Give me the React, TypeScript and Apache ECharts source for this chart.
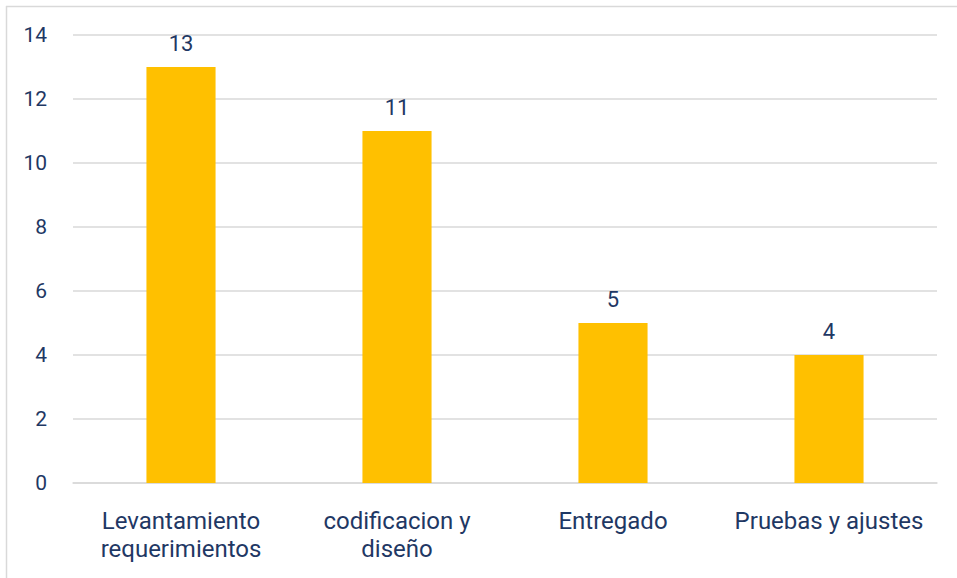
import React, { useEffect, useRef } from "react";
import * as echarts from "echarts";

const categories = ["Levantamiento\nrequerimientos", "codificacion y\ndiseño", "Entregado", "Pruebas y ajustes"];
const values = [13, 11, 5, 4];
const yTicks = { min: 0, max: 14, interval: 2 };

const TEXT = "#1F3864";
const GRID = "#D9D9D9";
const BAR = "#FFC000";
const FONT = "Roboto, 'Noto Sans', sans-serif";

export default function App() {
  const ref = useRef<HTMLDivElement>(null);
  useEffect(() => {
    const chart = echarts.init(ref.current!, null, { renderer: "svg" });
    chart.setOption({
      animation: false,
      textStyle: { fontFamily: FONT },
      grid: { left: 73, right: 20, top: 35, bottom: 95, containLabel: false },
      graphic: [
        { type: "line", shape: { x1: 6.5, y1: 6, x2: 6.5, y2: 578 }, style: { stroke: GRID, lineWidth: 1.5 } },
        { type: "line", shape: { x1: 6, y1: 6.5, x2: 957, y2: 6.5 }, style: { stroke: GRID, lineWidth: 1.5 } },
      ],
      xAxis: {
        type: "category",
        data: categories,
        axisLine: { show: true, lineStyle: { color: GRID, width: 1.5 } },
        axisTick: { show: false },
        axisLabel: { color: TEXT, fontSize: 24, fontFamily: FONT, lineHeight: 28, margin: 24, interval: 0 },
      },
      yAxis: {
        type: "value",
        min: yTicks.min,
        max: yTicks.max,
        interval: yTicks.interval,
        axisLine: { show: false },
        axisTick: { show: false },
        splitLine: { lineStyle: { color: GRID, width: 1.5 } },
        axisLabel: { color: TEXT, fontSize: 21, fontFamily: FONT, margin: 26 },
      },
      series: [
        {
          type: "bar",
          data: values,
          barWidth: "32%",
          itemStyle: { color: BAR },
          label: { show: true, position: "top", distance: 13, color: TEXT, fontSize: 22, fontFamily: FONT },
        },
      ],
    });
    return () => chart.dispose();
  }, []);
  return <div ref={ref} style={{ position: "fixed", left: 0, top: 0, width: 957, height: 578, background: "#fff" }} />;
}
